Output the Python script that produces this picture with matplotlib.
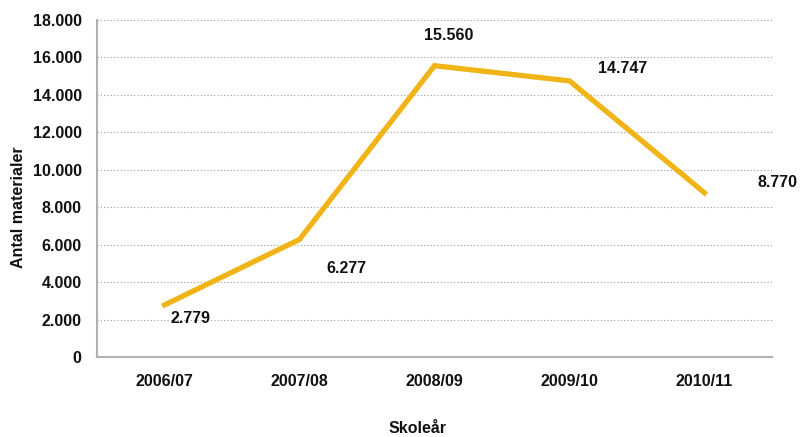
import matplotlib
matplotlib.use("Agg")
import matplotlib.pyplot as plt
from matplotlib.ticker import FuncFormatter, MultipleLocator

categories = ["2006/07", "2007/08", "2008/09", "2009/10", "2010/11"]
values = [2779, 6277, 15560, 14747, 8770]
label_offsets = [(26, -14), (47, -29), (14, 30), (53, 12), (73, 10)]

plt.rcParams['font.family'] = ['Liberation Sans Narrow', 'Liberation Sans', 'DejaVu Sans']
plt.rcParams['font.weight'] = 'bold'

fig = plt.figure(figsize=(8.01, 4.37), dpi=100)
ax = fig.add_axes([97/801, (437-357)/437, (772-97)/801, (357-20)/437])

x = list(range(len(categories)))
ax.plot(x, values, color='#F0B416', linewidth=3.8, solid_joinstyle='miter', zorder=3)

def fmt(v):
    return f"{int(round(v)):,}".replace(",", ".")

for xi, v, off in zip(x, values, label_offsets):
    ax.annotate(fmt(v), (xi, v), xytext=off, textcoords='offset pixels',
                ha='center', va='center', fontsize=11.5, fontweight='bold', color='#111111')

ax.set_xlim(-0.5, len(categories) - 0.5)
ax.set_ylim(0, 18000)
ax.yaxis.set_major_locator(MultipleLocator(2000))
ax.yaxis.set_major_formatter(FuncFormatter(lambda v, p: fmt(v)))
ax.set_xticks(x)
ax.set_xticklabels(categories)

ax.grid(axis='y', linestyle=(0, (1, 2)), color='#9a9a9a', linewidth=0.8)
ax.set_axisbelow(True)
for s in ['top', 'right']:
    ax.spines[s].set_visible(False)
for s in ['left', 'bottom']:
    ax.spines[s].set_color('#b0b0b0')
    ax.spines[s].set_linewidth(1.5)

ax.tick_params(axis='both', length=0, labelsize=11.5, colors='#111111')
ax.tick_params(axis='y', pad=11)
ax.tick_params(axis='x', pad=12)
for t in ax.get_xticklabels() + ax.get_yticklabels():
    t.set_fontweight('bold')

ax.set_xlabel("Skoleår", fontsize=11.5, fontweight='bold', color='#111111')
ax.set_ylabel("Antal materialer", fontsize=11.5, fontweight='bold', color='#111111')
ax.xaxis.set_label_coords((418-97)/675, (357-421)/337)
ax.yaxis.set_label_coords((26-97)/675, (357-207)/337)

fig.savefig("out.png", dpi=100)
